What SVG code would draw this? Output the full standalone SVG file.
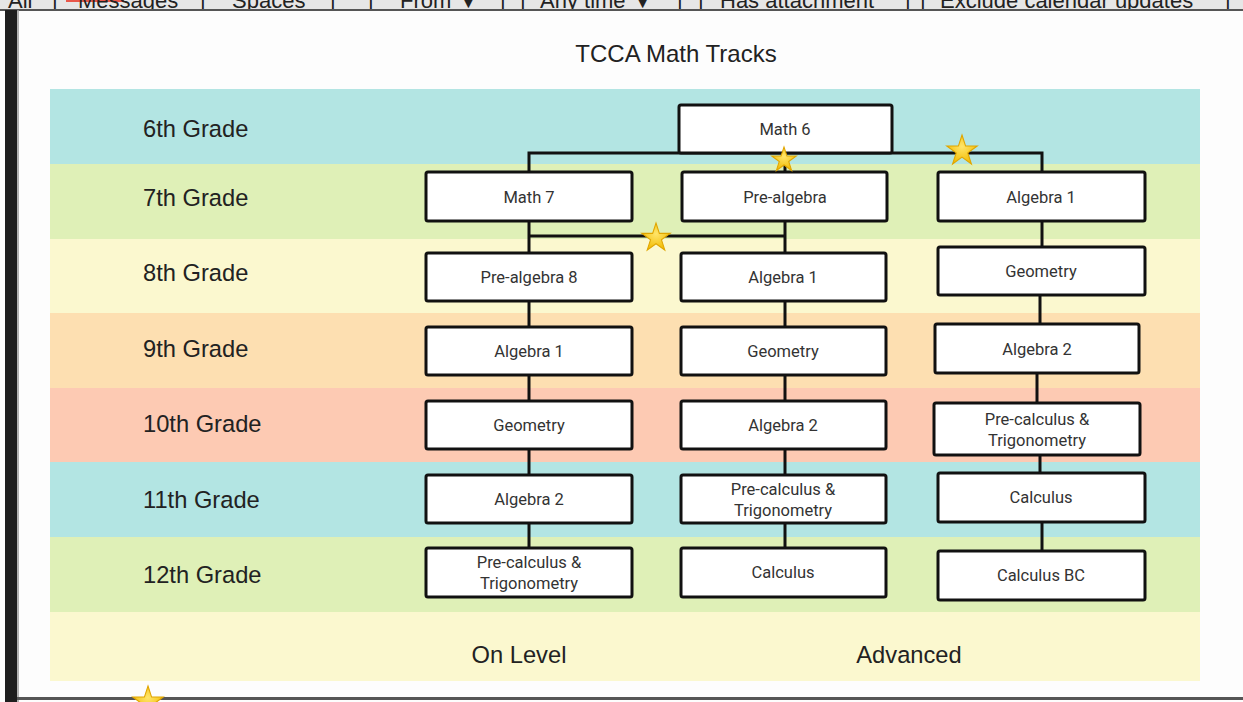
<svg xmlns="http://www.w3.org/2000/svg" width="1243" height="702" viewBox="0 0 1243 702">
<defs>
<style>
.band{stroke:none}
.grade{font-family:"Liberation Sans",Arial,sans-serif;font-size:23.7px;fill:#222}
.box rect{fill:#fff;stroke:#111;stroke-width:3}
.box text{font-family:Roboto,"Liberation Sans",sans-serif;font-size:16.5px;fill:#333;text-anchor:middle}
.conn{stroke:#111;stroke-width:3;fill:none}
.star{fill:url(#sg);stroke:#e0a500}
.ui{font-family:"Liberation Sans",Arial,sans-serif;font-size:22px;fill:#222}
</style>
<radialGradient id="sg" cx="0.5" cy="0.4" r="0.6">
<stop offset="0" stop-color="#ffe56a"/>
<stop offset="1" stop-color="#f2bb00"/>
</radialGradient>
<polygon id="st" points="0,-1 0.2245,-0.309 0.951,-0.309 0.363,0.118 0.588,0.809 0,0.382 -0.588,0.809 -0.363,0.118 -0.951,-0.309 -0.2245,-0.309"/>
<clipPath id="topclip"><rect x="0" y="0" width="1243" height="9"/></clipPath>
</defs>
<rect x="0" y="0" width="1243" height="702" fill="#fdfdfd"/>
<g id="ui-strip" clip-path="url(#topclip)">
<rect x="0" y="0" width="1243" height="9" fill="#e6e6e6"/>
<rect x="66" y="0" width="58" height="2" fill="#e8574a"/>
<text class="ui" x="8" y="8">All</text>
<text class="ui" x="52" y="8">|</text>
<text class="ui" x="78" y="8">Messages</text>
<text class="ui" x="200" y="8">|</text>
<text class="ui" x="232" y="8">Spaces</text>
<text class="ui" x="330" y="8">|</text>
<text class="ui" x="368" y="8">|</text>
<text class="ui" x="400" y="8">From ▼</text>
<text class="ui" x="500" y="8">|</text>
<text class="ui" x="520" y="8">|</text>
<text class="ui" x="540" y="8">Any time ▼</text>
<text class="ui" x="677" y="8">|</text>
<text class="ui" x="698" y="8">|</text>
<text class="ui" x="720" y="8">Has attachment</text>
<text class="ui" x="905" y="8">|</text>
<text class="ui" x="920" y="8">|</text>
<text class="ui" x="940" y="8">Exclude calendar updates</text>
<text class="ui" x="1225" y="8">|</text>
</g>
<line x1="0" y1="10" x2="1243" y2="10" stroke="#555" stroke-width="2"/>
<rect x="5" y="10" width="12" height="692" fill="#1e1e1e"/>
<line x1="18" y1="10" x2="18" y2="702" stroke="#999" stroke-width="1.5"/>
<line x1="17" y1="698.5" x2="1243" y2="698.5" stroke="#555" stroke-width="3"/>
<text x="676" y="62" text-anchor="middle" style="font-family:'Liberation Sans',Arial,sans-serif;font-size:24px;fill:#222">TCCA Math Tracks</text>
<g id="bands">
<rect class="band" x="50" y="89" width="1150" height="75" fill="#b3e5e3"/>
<rect class="band" x="50" y="164" width="1150" height="75" fill="#dff0b7"/>
<rect class="band" x="50" y="239" width="1150" height="74" fill="#fbf8cf"/>
<rect class="band" x="50" y="313" width="1150" height="75" fill="#fddfb1"/>
<rect class="band" x="50" y="388" width="1150" height="74" fill="#fdcab3"/>
<rect class="band" x="50" y="462" width="1150" height="75" fill="#b3e5e3"/>
<rect class="band" x="50" y="537" width="1150" height="75" fill="#dff0b7"/>
<rect class="band" x="50" y="612" width="1150" height="69" fill="#fbf8cf"/>
</g>
<g id="grade-labels">
<text class="grade" x="143" y="137">6th Grade</text>
<text class="grade" x="143" y="206">7th Grade</text>
<text class="grade" x="143" y="281">8th Grade</text>
<text class="grade" x="143" y="357">9th Grade</text>
<text class="grade" x="143" y="432">10th Grade</text>
<text class="grade" x="143" y="508">11th Grade</text>
<text class="grade" x="143" y="583">12th Grade</text>
<text class="grade" x="519" y="663" text-anchor="middle">On Level</text>
<text class="grade" x="909" y="663" text-anchor="middle">Advanced</text>
</g>
<g id="connectors">
<polyline class="conn" points="529,172 529,153 1042,153 1042,172"/>
<line class="conn" x1="785" y1="153" x2="785" y2="172"/>
<line class="conn" x1="529" y1="221" x2="529" y2="253"/>
<line class="conn" x1="785" y1="221" x2="785" y2="253"/>
<line class="conn" x1="529" y1="236" x2="785" y2="236"/>
<line class="conn" x1="1042" y1="221" x2="1042" y2="247"/>
<line class="conn" x1="529" y1="301" x2="529" y2="327"/>
<line class="conn" x1="785" y1="301" x2="785" y2="327"/>
<line class="conn" x1="1040" y1="295" x2="1040" y2="324"/>
<line class="conn" x1="529" y1="375" x2="529" y2="401"/>
<line class="conn" x1="785" y1="375" x2="785" y2="401"/>
<line class="conn" x1="1037" y1="373" x2="1037" y2="403"/>
<line class="conn" x1="529" y1="449" x2="529" y2="475"/>
<line class="conn" x1="785" y1="449" x2="785" y2="475"/>
<line class="conn" x1="1040" y1="455" x2="1040" y2="473"/>
<line class="conn" x1="529" y1="523" x2="529" y2="547"/>
<line class="conn" x1="785" y1="523" x2="785" y2="547"/>
<line class="conn" x1="1042" y1="522" x2="1042" y2="551"/>
</g>
<g id="math6" class="box"><rect x="679" y="105" width="213" height="48" rx="2"/><text x="785" y="135">Math 6</text></g>
<g id="math7" class="box"><rect x="426" y="172" width="206" height="49" rx="2"/><text x="529" y="203">Math 7</text></g>
<g id="prealgebra" class="box"><rect x="682" y="172" width="205" height="49" rx="2"/><text x="785" y="203">Pre-algebra</text></g>
<g id="algebra1-adv" class="box"><rect x="938" y="172" width="207" height="49" rx="2"/><text x="1041" y="203">Algebra 1</text></g>
<g id="prealgebra8" class="box"><rect x="426" y="253" width="206" height="48" rx="2"/><text x="529" y="283">Pre-algebra 8</text></g>
<g id="algebra1-mid" class="box"><rect x="681" y="253" width="205" height="48" rx="2"/><text x="783" y="283">Algebra 1</text></g>
<g id="geometry-adv" class="box"><rect x="938" y="247" width="207" height="48" rx="2"/><text x="1041" y="277">Geometry</text></g>
<g id="algebra1-on" class="box"><rect x="426" y="327" width="206" height="48" rx="2"/><text x="529" y="357">Algebra 1</text></g>
<g id="geometry-mid" class="box"><rect x="681" y="327" width="205" height="48" rx="2"/><text x="783" y="357">Geometry</text></g>
<g id="algebra2-adv" class="box"><rect x="935" y="324" width="204" height="49" rx="2"/><text x="1037" y="355">Algebra 2</text></g>
<g id="geometry-on" class="box"><rect x="426" y="401" width="206" height="48" rx="2"/><text x="529" y="431">Geometry</text></g>
<g id="algebra2-mid" class="box"><rect x="681" y="401" width="205" height="48" rx="2"/><text x="783" y="431">Algebra 2</text></g>
<g id="precalc-adv" class="box"><rect x="934" y="403" width="206" height="52" rx="2"/><text x="1037" y="425">Pre-calculus &amp;</text><text x="1037" y="446">Trigonometry</text></g>
<g id="algebra2-on" class="box"><rect x="426" y="475" width="206" height="48" rx="2"/><text x="529" y="505">Algebra 2</text></g>
<g id="precalc-mid" class="box"><rect x="681" y="475" width="205" height="48" rx="2"/><text x="783" y="495">Pre-calculus &amp;</text><text x="783" y="516">Trigonometry</text></g>
<g id="calculus-adv" class="box"><rect x="938" y="473" width="207" height="49" rx="2"/><text x="1041" y="503">Calculus</text></g>
<g id="precalc-on" class="box"><rect x="426" y="548" width="206" height="49" rx="2"/><text x="529" y="568">Pre-calculus &amp;</text><text x="529" y="589">Trigonometry</text></g>
<g id="calculus-mid" class="box"><rect x="681" y="548" width="205" height="49" rx="2"/><text x="783" y="578">Calculus</text></g>
<g id="calculusbc" class="box"><rect x="938" y="551" width="207" height="49" rx="2"/><text x="1041" y="581">Calculus BC</text></g>
<g id="stars">
<use href="#st" class="star" transform="translate(784,160) scale(13)" stroke-width="0.08"/>
<use href="#st" class="star" transform="translate(962,151) scale(16)" stroke-width="0.07"/>
<use href="#st" class="star" transform="translate(656,238) scale(15)" stroke-width="0.07"/>
<use href="#st" class="star" transform="translate(148,702) scale(16)" stroke-width="0.07"/>
</g>
</svg>
